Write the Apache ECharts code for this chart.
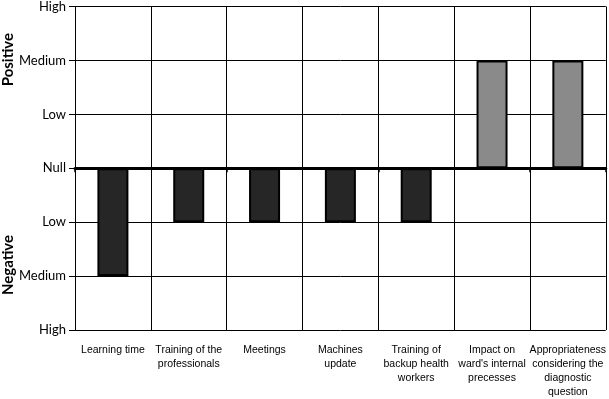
<!DOCTYPE html>
<html><head><meta charset="utf-8">
<script src="https://cdn.jsdelivr.net/npm/echarts@6/dist/echarts.min.js"></script>
<style>html,body{margin:0;padding:0;background:#fff}#c{width:609px;height:399px}</style>
</head><body><div id="c"></div>
<script>
const categories = ["Learning time","Training of the\nprofessionals","Meetings","Machines\nupdate","Training of\nbackup health\nworkers","Impact on\nward's internal\nprecesses","Appropriateness\nconsidering the\ndiagnostic\nquestion"];
const values = [-2,-1,-1,-1,-1,2,2];
const levelLabels = {"-3":"High","-2":"Medium","-1":"Low","0":"Null","1":"Low","2":"Medium","3":"High"};
const posColor = "#8a8a8a", negColor = "#262626";

const chart = echarts.init(document.getElementById('c'), null, {renderer:'canvas'});
chart.setOption({
  animation:false,
  backgroundColor:'#fff',
  grid:{left:75,right:2,top:5,bottom:69},
  xAxis:[{
    type:'category', data:categories, position:'bottom',
    axisLine:{show:false,onZero:false}, axisTick:{show:false},
    splitLine:{show:true,lineStyle:{color:'#000',width:1}},
    axisLabel:{interval:0,margin:13,fontFamily:'Liberation Sans, Arial',fontSize:10.5,color:'#000',lineHeight:14,align:'center'}
  },{
    type:'category', data:categories, position:'bottom',
    axisLine:{show:true,onZero:true,lineStyle:{color:'#000',width:3}},
    axisTick:{show:true,length:4,lineStyle:{color:'#000',width:1.5}},
    axisLabel:{show:false}, splitLine:{show:false}
  }],
  yAxis:{
    type:'value', min:-3, max:3, interval:1,
    axisLine:{show:true,lineStyle:{color:'#000',width:1}},
    axisTick:{show:true,length:6,lineStyle:{color:'#000'}},
    splitLine:{show:true,lineStyle:{color:'#000',width:1}},
    axisLabel:{formatter:v=>levelLabels[String(v)],fontFamily:'Lato, Carlito, sans-serif',fontSize:13,color:'#000',margin:9}
  },
  graphic:[
    {type:'text',left:1,top:33,rotation:Math.PI/2,style:{text:'Positive',font:'bold 15px Lato, sans-serif',fill:'#000'}},
    {type:'text',left:1,top:235,rotation:Math.PI/2,style:{text:'Negative',font:'bold 15px Lato, sans-serif',fill:'#000'}}
  ],
  series:[{
    type:'bar', xAxisIndex:0, barWidth:31,
    data:values.map(v=>({value:v,itemStyle:{color:v<0?negColor:posColor,borderColor:'#000',borderWidth:2}}))
  }]
});
</script></body></html>
